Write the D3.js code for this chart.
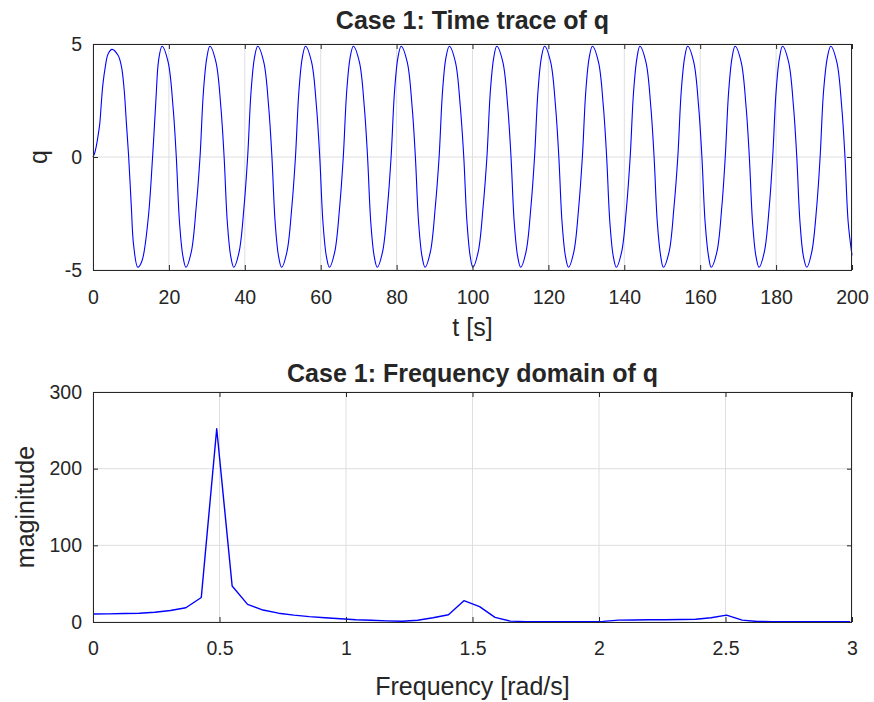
<!DOCTYPE html>
<html><head><meta charset="utf-8">
<script src="https://cdn.jsdelivr.net/npm/d3@7/dist/d3.min.js"></script>
<style>
body{margin:0;background:#fff}
svg{display:block}
text{font-family:"Liberation Sans",Arial,Helvetica,sans-serif;fill:#262626}
</style></head>
<body><svg id="chart" width="874" height="702"></svg>
<script>
// ---- Time trace data (t [s], q) ----
const timeT = [0,0.4,0.9,1.3,1.8,2.2,2.6,3.25,3.95,5.0,6.6,7.5,8.2,8.8,9.4,10.1,10.7,11.8,12.9,14.5,15.7,16.6,17.3,
18.2,19.8,21.1,21.95,22.8,23.7,24.5,25.9,27.2,28.2,29.1,30.0,
30.8,32.4,33.7,34.55,35.4,36.3,37.1,38.5,39.8,40.75,41.65,42.55,
43.4,45.0,46.3,47.15,48.0,48.9,49.7,51.1,52.4,53.35,54.25,55.15,
56.0,57.6,58.9,59.75,60.6,61.5,62.3,63.7,65.0,65.95,66.85,67.75,
68.6,70.2,71.5,72.35,73.2,74.1,74.9,76.3,77.6,78.55,79.45,80.35,
81.2,82.8,84.1,84.95,85.8,86.7,87.5,88.9,90.2,91.2,92.1,93.0,
93.9,95.5,96.8,97.7,98.55,99.4,100.1,101.5,102.8,103.8,104.7,105.6,
106.4,108.0,109.3,110.15,111.0,111.9,112.7,114.1,115.4,116.35,117.25,118.15,
119.0,120.6,121.9,122.75,123.6,124.5,125.3,126.7,128.0,128.95,129.85,130.75,
131.6,133.2,134.5,135.35,136.2,137.1,137.9,139.3,140.6,141.55,142.45,143.35,
144.1,145.7,147.0,147.85,148.7,149.6,150.3,151.8,153.1,154.1,155.0,155.9,
156.7,158.3,159.6,160.45,161.3,162.2,162.9,164.4,165.7,166.6,167.5,168.4,
169.2,170.8,172.1,172.95,173.8,174.7,175.5,176.9,178.2,179.1,180.0,180.9,
181.7,183.3,184.6,185.45,186.3,187.2,188.1,189.4,190.7,191.6,192.5,193.5,
194.4,196.0,197.3,198.15,199.0,200.0];
const timeQ = [0,0.15,0.5,0.9,1.5,2.4,3.2,4.0,4.55,4.76,4.5,4.0,3.0,1.5,0,-2.2,-3.9,-4.88,-4.6,-2.8,0,2.6,4.3,
4.9,4.2,2.2,0,-2.9,-4.4,-4.88,-4.2,-2.2,0,2.9,4.4,
4.9,4.2,2.2,0,-2.9,-4.4,-4.88,-4.2,-2.2,0,2.9,4.4,
4.9,4.2,2.2,0,-2.9,-4.4,-4.88,-4.2,-2.2,0,2.9,4.4,
4.9,4.2,2.2,0,-2.9,-4.4,-4.88,-4.2,-2.2,0,2.9,4.4,
4.9,4.2,2.2,0,-2.9,-4.4,-4.88,-4.2,-2.2,0,2.9,4.4,
4.9,4.2,2.2,0,-2.9,-4.4,-4.88,-4.2,-2.2,0,2.9,4.4,
4.9,4.2,2.2,0,-2.9,-4.4,-4.88,-4.2,-2.2,0,2.9,4.4,
4.9,4.2,2.2,0,-2.9,-4.4,-4.88,-4.2,-2.2,0,2.9,4.4,
4.9,4.2,2.2,0,-2.9,-4.4,-4.88,-4.2,-2.2,0,2.9,4.4,
4.9,4.2,2.2,0,-2.9,-4.4,-4.88,-4.2,-2.2,0,2.9,4.4,
4.9,4.2,2.2,0,-2.9,-4.4,-4.88,-4.2,-2.2,0,2.9,4.4,
4.9,4.2,2.2,0,-2.9,-4.4,-4.88,-4.2,-2.2,0,2.9,4.4,
4.9,4.2,2.2,0,-2.9,-4.4,-4.88,-4.2,-2.2,0,2.9,4.4,
4.9,4.2,2.2,0,-2.9,-4.4,-4.88,-4.2,-2.2,0,2.9,4.4,
4.9,4.2,2.2,0,-2.9,-4.35];

// ---- Frequency-domain data (rad/s, magnitude) ----
const freqW = [0,0.061,0.122,0.183,0.244,0.306,0.367,0.428,0.489,0.55,0.611,0.672,0.733,0.794,0.855,0.917,0.978,1.039,1.1,1.161,
1.222,1.283,1.344,1.405,1.466,1.528,1.589,1.65,1.711,1.772,1.833,1.894,1.955,2.016,2.077,2.138,2.199,2.26,2.321,2.382,
2.443,2.504,2.566,2.627,2.688,2.749,2.81,2.871,2.932,2.993];
const freqMag = [10.4,10.6,11.0,11.5,12.8,15.0,18.6,32,252,47,23,15.6,11.5,9,7,5.6,4.3,3.0,2.2,1.5,
1.0,2.2,5.5,9.5,27.8,20,6,1.2,0.5,0.4,0.4,0.4,0.4,0.8,2.4,2.7,2.9,3.0,3.2,3.6,
5.5,9.0,2.5,0.6,0.5,0.5,0.5,0.5,0.5,0.5];

// ---- Ticks and texts ----
const timeTicks = [0,20,40,60,80,100,120,140,160,180,200];
const qTicks = [-5,0,5];
const freqTicks = [0,0.5,1,1.5,2,2.5,3];
const magTicks = [0,100,200,300];
const titles = ["Case 1: Time trace of q","Case 1: Frequency domain of q"];
const xLabels = ["t [s]","Frequency [rad/s]"];
const yLabels = ["q","maginitude"];

const svg = d3.select("#chart");
const AX = "#262626", GRID = "#dfdfdf", LINE = "#0000ff";
const TICK_FS = 19.5, LAB_FS = 25, TITLE_FS = 25;

function panel(o){
  const x = d3.scaleLinear().domain(o.xDom).range([o.left,o.right]);
  const y = d3.scaleLinear().domain(o.yDom).range([o.bottom,o.top]);
  const g = svg.append("g");
  g.append("g").selectAll("line").data(o.xTicks).join("line")
    .attr("x1",d=>x(d)).attr("x2",d=>x(d)).attr("y1",o.top).attr("y2",o.bottom)
    .attr("stroke",GRID).attr("stroke-width",1);
  g.append("g").selectAll("line").data(o.yTicks).join("line")
    .attr("y1",d=>y(d)).attr("y2",d=>y(d)).attr("x1",o.left).attr("x2",o.right)
    .attr("stroke",GRID).attr("stroke-width",1);
  const line = d3.line().x(d=>x(d[0])).y(d=>y(d[1])).curve(o.curve);
  g.append("path").datum(d3.zip(o.xs,o.ys)).attr("d",line)
    .attr("fill","none").attr("stroke",LINE).attr("stroke-width",o.lw).attr("stroke-linejoin","round");
  const fmt = d => String(d);
  const ax = (gen, tr, labels)=>{
    const a = g.append("g").attr("transform",tr).call(gen);
    a.select(".domain").remove();
    a.selectAll(".tick line").attr("stroke",AX);
    a.selectAll(".tick text").attr("font-size",TICK_FS).attr("fill",AX)
      .attr("font-family",'"Liberation Sans",Arial,sans-serif');
    if(!labels) a.selectAll(".tick text").remove();
    return a;
  };
  ax(d3.axisBottom(x).tickValues(o.xTicks).tickSize(-5).tickPadding(o.xPad).tickFormat(fmt),`translate(0,${o.bottom})`,true);
  ax(d3.axisTop(x).tickValues(o.xTicks).tickSize(-5),`translate(0,${o.top})`,false);
  ax(d3.axisLeft(y).tickValues(o.yTicks).tickSize(-5).tickPadding(o.yPad).tickFormat(fmt),`translate(${o.left},0)`,true);
  ax(d3.axisRight(y).tickValues(o.yTicks).tickSize(-5),`translate(${o.right},0)`,false);
  g.append("rect").attr("x",o.left+0.5).attr("y",o.top+0.5)
    .attr("width",o.right-o.left-1).attr("height",o.bottom-o.top)
    .attr("fill","none").attr("stroke",AX).attr("stroke-width",1);
  g.append("text").attr("x",(o.left+o.right)/2).attr("y",o.titleY).attr("text-anchor","middle")
    .attr("font-size",TITLE_FS).attr("font-weight","bold").attr("fill","#000").text(o.title);
  g.append("text").attr("x",(o.left+o.right)/2).attr("y",o.xLabY).attr("text-anchor","middle")
    .attr("font-size",LAB_FS).text(o.xLab);
  g.append("text").attr("transform",`translate(${o.yLabX},${(o.top+o.bottom)/2}) rotate(-90)`)
    .attr("text-anchor","middle").attr("font-size",LAB_FS).text(o.yLab);
}

panel({xDom:[0,200], yDom:[-5,5], left:93, right:852, top:44, bottom:270,
  xTicks:timeTicks, yTicks:qTicks, xs:timeT, ys:timeQ, curve:d3.curveCatmullRom.alpha(0.5), lw:1.1,
  xPad:20, yPad:11, title:titles[0], titleY:29, xLab:xLabels[0], xLabY:336,
  yLab:yLabels[0], yLabX:47});

panel({xDom:[0,3], yDom:[0,300], left:93, right:852, top:392, bottom:622,
  xTicks:freqTicks, yTicks:magTicks, xs:freqW, ys:freqMag, curve:d3.curveLinear, lw:1.4,
  xPad:19, yPad:11, title:titles[1], titleY:382, xLab:xLabels[1], xLabY:695,
  yLab:yLabels[1], yLabX:34});
</script></body></html>
